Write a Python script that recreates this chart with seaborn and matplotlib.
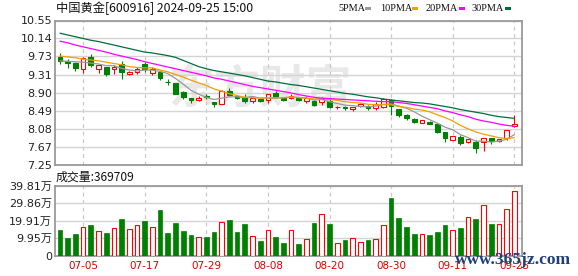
import numpy as np
import matplotlib
matplotlib.use("Agg")
import matplotlib.pyplot as plt
from matplotlib.patches import Rectangle
import seaborn as sns

# ---------------- data ----------------
dates = ["07-02", "07-03", "07-04", "07-05", "07-08", "07-09", "07-10", "07-11", "07-12", "07-15",
         "07-16", "07-17", "07-18", "07-19", "07-22", "07-23", "07-24", "07-25", "07-26", "07-29",
         "07-30", "07-31", "08-01", "08-02", "08-05", "08-06", "08-07", "08-08", "08-09", "08-12",
         "08-13", "08-14", "08-15", "08-16", "08-19", "08-20", "08-21", "08-22", "08-23", "08-26",
         "08-27", "08-28", "08-29", "08-30", "09-02", "09-03", "09-04", "09-05", "09-06", "09-09",
         "09-10", "09-11", "09-12", "09-13", "09-18", "09-19", "09-20", "09-23", "09-24", "09-25"]

open_ = [9.72, 9.63, 9.59, 9.44, 9.71, 9.44, 9.48, 9.44, 9.57, 9.34,
         9.38, 9.56, 9.36, 9.37, 9.15, 9.12, 8.93, 8.785, 8.74, 8.83,
         8.70, 8.655, 8.95, 8.82, 8.79, 8.72, 8.77, 8.74, 8.89, 8.78,
         8.79, 8.79, 8.71, 8.72, 8.69, 8.72, 8.57, 8.57, 8.54, 8.61,
         8.61, 8.56, 8.59, 8.73, 8.53, 8.40, 8.30, 8.22, 8.245, 8.19,
         8.02, 7.83, 7.90, 7.77, 7.77, 7.78, 7.87, 7.81, 7.87, 8.15]
high = [9.82, 9.67, 9.60, 9.71, 9.78, 9.54, 9.49, 9.53, 9.63, 9.41,
        9.48, 9.61, 9.48, 9.38, 9.22, 9.13, 8.95, 8.785, 8.84, 8.87,
        8.70, 8.96, 9.01, 8.84, 8.88, 8.80, 8.79, 8.88, 8.94, 8.78,
        8.87, 8.80, 8.83, 8.73, 8.80, 8.78, 8.61, 8.61, 8.57, 8.67,
        8.62, 8.69, 8.79, 8.76, 8.54, 8.42, 8.33, 8.28, 8.25, 8.19,
        8.02, 7.92, 7.94, 7.86, 7.83, 7.87, 7.87, 7.86, 8.06, 8.40]
low = [9.56, 9.46, 9.41, 9.35, 9.50, 9.35, 9.29, 9.34, 9.22, 9.30,
       9.33, 9.37, 9.30, 9.19, 9.08, 8.87, 8.77, 8.68, 8.72, 8.75,
       8.59, 8.64, 8.83, 8.75, 8.68, 8.68, 8.69, 8.66, 8.79, 8.71,
       8.75, 8.72, 8.67, 8.60, 8.62, 8.55, 8.54, 8.52, 8.48, 8.58,
       8.52, 8.52, 8.55, 8.40, 8.36, 8.28, 8.22, 8.22, 8.18, 7.98,
       7.79, 7.83, 7.72, 7.75, 7.54, 7.58, 7.73, 7.77, 7.83, 8.13]
close = [9.63, 9.575, 9.47, 9.69, 9.54, 9.54, 9.34, 9.48, 9.38, 9.38,
         9.44, 9.44, 9.44, 9.23, 9.14, 8.88, 8.80, 8.74, 8.785, 8.80,
         8.64, 8.94, 8.86, 8.79, 8.72, 8.79, 8.72, 8.88, 8.80, 8.74,
         8.84, 8.74, 8.78, 8.62, 8.765, 8.57, 8.58, 8.56, 8.57, 8.65,
         8.56, 8.65, 8.76, 8.61, 8.40, 8.32, 8.245, 8.28, 8.19, 8.02,
         7.87, 7.92, 7.75, 7.84, 7.64, 7.87, 7.81, 7.84, 8.06, 8.19]

ma5 = [9.63, 9.62, 9.61, 9.60, 9.58, 9.56, 9.52, 9.52, 9.46, 9.42,
       9.40, 9.42, 9.42, 9.39, 9.34, 9.23, 9.10, 8.96, 8.87, 8.80,
       8.75, 8.78, 8.81, 8.81, 8.79, 8.82, 8.78, 8.78, 8.78, 8.79,
       8.80, 8.80, 8.78, 8.74, 8.75, 8.70, 8.66, 8.62, 8.61, 8.59,
       8.58, 8.60, 8.64, 8.65, 8.60, 8.55, 8.47, 8.37, 8.29, 8.21,
       8.12, 8.06, 7.95, 7.88, 7.80, 7.80, 7.78, 7.80, 7.84, 7.95]
ma10 = [9.74, 9.72, 9.70, 9.67, 9.65, 9.63, 9.60, 9.57, 9.54, 9.50,
        9.48, 9.47, 9.47, 9.42, 9.38, 9.32, 9.26, 9.19, 9.13, 9.07,
        8.99, 8.94, 8.88, 8.84, 8.80, 8.79, 8.78, 8.79, 8.79, 8.79,
        8.81, 8.79, 8.78, 8.76, 8.77, 8.75, 8.73, 8.70, 8.68, 8.67,
        8.64, 8.63, 8.63, 8.63, 8.59, 8.57, 8.53, 8.51, 8.47, 8.40,
        8.34, 8.26, 8.16, 8.08, 8.01, 7.96, 7.92, 7.88, 7.86, 7.88]
ma20 = [10.08, 10.04, 9.99, 9.95, 9.91, 9.87, 9.83, 9.78, 9.74, 9.70,
        9.66, 9.61, 9.57, 9.53, 9.49, 9.45, 9.41, 9.37, 9.33, 9.29,
        9.24, 9.21, 9.17, 9.13, 9.09, 9.05, 9.02, 8.99, 8.96, 8.93,
        8.90, 8.86, 8.83, 8.80, 8.78, 8.77, 8.76, 8.75, 8.74, 8.73,
        8.72, 8.71, 8.70, 8.70, 8.68, 8.66, 8.63, 8.60, 8.57, 8.54,
        8.49, 8.45, 8.40, 8.36, 8.30, 8.26, 8.23, 8.19, 8.16, 8.14]
ma30 = [10.26, 10.22, 10.18, 10.14, 10.10, 10.07, 10.03, 9.99, 9.95, 9.91,
        9.87, 9.83, 9.81, 9.78, 9.75, 9.71, 9.64, 9.57, 9.50, 9.45,
        9.41, 9.38, 9.35, 9.32, 9.29, 9.25, 9.21, 9.17, 9.15, 9.12,
        9.09, 9.07, 9.04, 9.01, 8.98, 8.95, 8.92, 8.89, 8.87, 8.84,
        8.81, 8.79, 8.76, 8.74, 8.72, 8.70, 8.68, 8.67, 8.65, 8.62,
        8.59, 8.56, 8.52, 8.49, 8.46, 8.43, 8.39, 8.36, 8.34, 8.32]

# volume in 万 (10k shares)
volume = [14.5, 10.0, 12.2, 16.6, 17.4, 14.0, 12.8, 16.0, 20.9, 15.1,
          17.4, 19.9, 16.3, 26.0, 12.8, 18.6, 14.2, 11.7, 10.5, 10.5,
          13.4, 19.1, 20.5, 13.4, 18.0, 10.9, 8.2, 14.5, 10.5, 7.1,
          14.5, 6.5, 9.4, 18.6, 23.7, 18.0, 6.9, 8.8, 10.3, 7.5,
          8.8, 9.2, 17.2, 32.9, 21.4, 16.3, 12.2, 12.6, 11.7, 13.4,
          17.4, 14.5, 15.7, 21.8, 20.9, 28.7, 18.0, 17.8, 26.4, 36.9709]

price_ticks = [7.25, 7.67, 8.08, 8.49, 8.90, 9.31, 9.73, 10.14, 10.55]
vol_ticks = [0, 9.95, 19.91, 29.86, 39.81]
vol_tick_labels = ["0", "9.95万", "19.91万", "29.86万", "39.81万"]
ma_names = ["5PMA", "10PMA", "20PMA", "30PMA"]
title = "中国黄金[600916] 2024-09-25 15:00"
vol_title = "成交量:369709"

# ---------------- style ----------------
sns.set_style("white")
plt.rcParams['font.family'] = ['DejaVu Sans', 'Noto Sans CJK SC']

RED = "#ff0000"
GREEN = "#008000"
MA_COLORS = ["#999999", "#f0a000", "#ff00ff", "#006e3a"]
GRID = "#d4d4d4"
SPINE = "#9a9a9a"
TXT = "#222222"

W, H = 578, 276
fig = plt.figure(figsize=(W / 100, H / 100), dpi=100)
fig.patch.set_facecolor("white")


def rect(l, t, r, b):
    return [l / W, 1 - b / H, (r - l) / W, (b - t) / H]


axp = fig.add_axes(rect(55, 20.5, 522, 165.3))
axv = fig.add_axes(rect(55, 186, 522, 255.5))

x = np.arange(len(dates))
o = np.array(open_)
c = np.array(close)
hi = np.array(high)
lo = np.array(low)
up = c >= o
label_idx = list(range(3, len(dates), 8))

# watermark
axp.text(0.44, 0.52, "东方财富", transform=axp.transAxes, ha="center", va="center",
         fontsize=33, color="#e8e8e8", family=["Noto Sans CJK SC"], fontweight="bold",
         zorder=0.5)

# candles
wick_colors = np.where(up, RED, GREEN)
axp.vlines(x, lo, hi, colors=wick_colors, lw=0.8, zorder=3)
body = np.maximum(np.abs(c - o), 0.008)
bottom = np.minimum(o, c)
axp.bar(x[up], body[up], bottom=bottom[up], width=0.62, facecolor="white",
        edgecolor=RED, lw=0.8, zorder=4)
axp.bar(x[~up], body[~up], bottom=bottom[~up], width=0.62, facecolor=GREEN,
        edgecolor=GREEN, lw=0.8, zorder=4)

# moving averages
for ma, col in zip([ma5, ma10, ma20, ma30], MA_COLORS):
    sns.lineplot(x=x, y=ma, ax=axp, color=col, lw=0.9, zorder=5, legend=False)

# volume
v = np.array(volume)
axv.bar(x[up], v[up], width=0.6, facecolor="white", edgecolor=RED, lw=0.8, zorder=3)
axv.bar(x[~up], v[~up], width=0.6, facecolor=GREEN, edgecolor=GREEN, lw=0.5, zorder=3)

# axes formatting
for ax in (axp, axv):
    ax.set_xlim(-0.65, 60.0)
    ax.set_xticks(label_idx)
    ax.grid(axis="x", color="#c8c8c8", lw=0.9, ls=(0, (3, 3)), zorder=0)
    ax.grid(axis="y", color=GRID, lw=1.0, ls="-", zorder=0)
    ax.set_axisbelow(True)
    ax.tick_params(length=0, labelsize=8, colors=TXT, pad=2)
    ax.set_xlabel("")
    ax.set_ylabel("")
    for s in ax.spines.values():
        s.set_visible(True)
        s.set_color(SPINE)
        s.set_linewidth(1.3)

axp.set_ylim(7.25, 10.55)
axp.set_yticks(price_ticks)
axp.set_yticklabels([f"{t:.2f}" for t in price_ticks])
axp.set_xticklabels([])

axv.set_ylim(0, 39.81)
axv.set_yticks(vol_ticks)
axv.set_yticklabels(vol_tick_labels)
axv.set_xticklabels([dates[i] for i in label_idx], color="#e00000", fontsize=7.5)
axv.tick_params(axis="x", pad=4)

# titles
fig.text(56 / W, 1 - 8.5 / H, title, ha="left", va="center", fontsize=8.8,
         family=["Noto Sans CJK SC", "DejaVu Sans"], color="#111111")
fig.text(56 / W, 1 - 177.5 / H, vol_title, ha="left", va="center", fontsize=8.6,
         family=["Noto Sans CJK SC", "DejaVu Sans"], color="#111111")

# legend
leg_text_x = [338, 380, 426, 472]
leg_mark_x = [365, 412, 459, 505]
for name, tx, mx, col in zip(ma_names, leg_text_x, leg_mark_x, MA_COLORS):
    fig.text(tx / W, 1 - 8.5 / H, name, ha="left", va="center", fontsize=7.4,
             family=["Liberation Serif"], color="#111111")
    fig.patches.append(Rectangle((mx / W, 1 - 10.3 / H), 6 / W, 3 / H,
                                 transform=fig.transFigure, facecolor=col,
                                 edgecolor="none"))

# site watermark
fig.text(455 / W, 1 - 260 / H, "www.365jz.com", ha="left", va="center", fontsize=12.5,
         family=["Liberation Serif"], fontweight="bold", color="#1f3f7a", zorder=10)

fig.savefig("out.png", dpi=100, facecolor="white")
